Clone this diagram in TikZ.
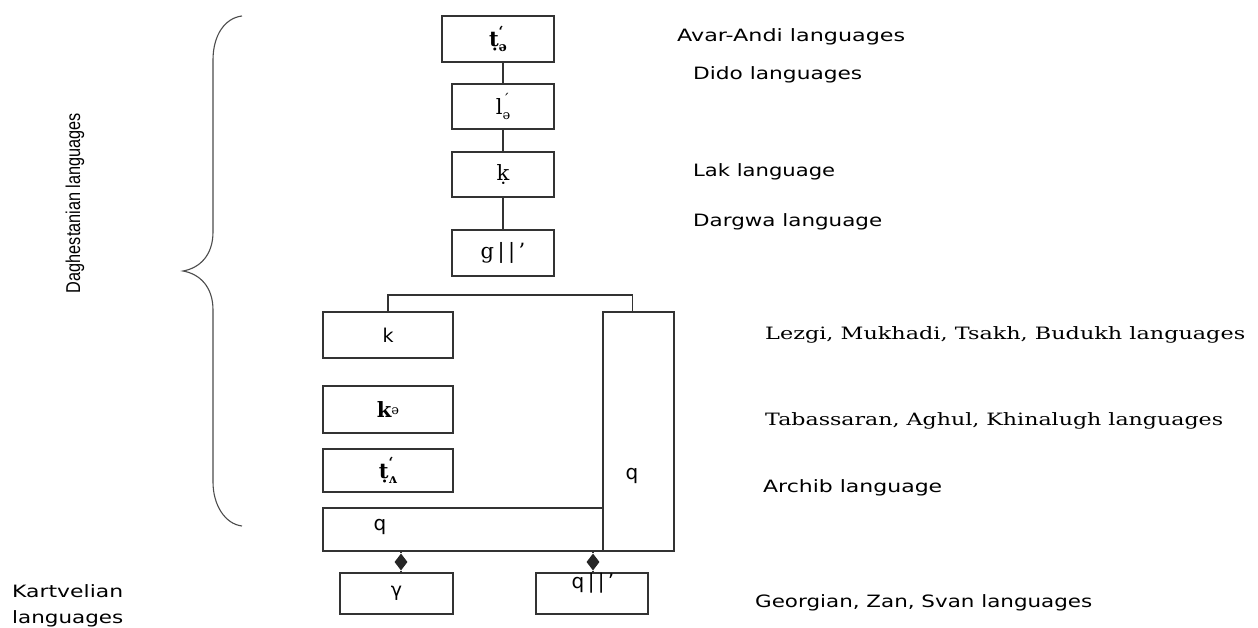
\documentclass[tikz,border=0pt]{standalone}
\usepackage{fontspec}
\usepackage{graphicx}
\setmainfont{DejaVu Serif}
\newfontfamily\dvs{DejaVu Sans}
\newfontfamily\dvserif{DejaVu Serif}
\newfontfamily\lsans{Liberation Sans}
\usetikzlibrary{shapes.geometric}
\newcommand\fitw[2]{\resizebox{#1}{\height}{#2}}
\newcommand\tsub[3]{#1\rlap{\raisebox{0.5em}{\fontsize{14}{14}\selectfont #2}}\raisebox{-0.25em}{\fontsize{13}{13}\selectfont #3}}
\begin{document}
\begin{tikzpicture}[x=1pt,y=-1pt,
  bx/.style={draw=black!80, line width=1.2pt, inner sep=0pt, outer sep=0pt, font=\dvserif\fontsize{21}{21}\selectfont},
  ln/.style={draw=black!80, line width=1.2pt},
  sbl/.style={inner sep=0pt, font=\dvs\fontsize{20}{20}\selectfont},
  rlab/.style={anchor=base west, inner sep=0pt, font=\dvs\fontsize{17}{17}\selectfont},
  slab/.style={anchor=base west, inner sep=0pt, font=\dvserif\fontsize{17}{17}\selectfont},
  dia/.style={diamond, fill=black!85, draw=none, inner sep=0pt, minimum width=13, minimum height=17}]
\path[use as bounding box] (0,0) rectangle (1258,628);
\fill[white] (0,0) rectangle (1258,628);

% brace
\draw[line width=1.1pt, black!70] (242,16) .. controls (225,18) and (213,35) .. (213,60) -- (213,232)
  .. controls (213,255) and (200,268) .. (183,271)
  .. controls (200,274) and (213,287) .. (213,310) -- (213,482)
  .. controls (213,505) and (225,524) .. (242,526);
\node[rotate=90, anchor=base, inner sep=0pt, font=\lsans\fontsize{20}{20}\selectfont] (dag) at (80,203) {\fitw{180pt}{Daghestanian languages}};

% top column
\node[bx, minimum width=112, minimum height=46] (b1) at (498,39) {\tsub{\bfseries ṭ}{ʻ}{ǝ}};
\node[bx, minimum width=102, minimum height=45] (b2) at (503,106.5) {\tsub{l}{ˊ}{ǝ}};
\node[bx, minimum width=102, minimum height=45] (b3) at (503,174.5) {ḳ};
\node[bx, minimum width=102, minimum height=46] (b4) at (503,253) {g\,|\,|\,’};
\draw[ln] (b2.north |- b1.south) -- (b2.north);
\draw[ln] (b2.south) -- (b3.north);
\draw[ln] (b3.south) -- (b4.north);

% lower block
\node[bx, minimum width=130, minimum height=46] (bk) at (388,335) {\dvs\fontsize{19}{19}\selectfont k};
\node[bx, minimum width=130, minimum height=47] (bke) at (388,409.5) {{\bfseries k}\raisebox{0.15em}{\fontsize{13}{13}\selectfont ǝ}};
\node[bx, minimum width=130, minimum height=43] (bt) at (388,470.5) {\tsub{\bfseries ṭ}{ʻ}{ʌ}};
\node[bx, minimum width=280, minimum height=43] (wq) at (463,529.5) {};
\node[bx, minimum width=71, minimum height=239] (tq) at (638.5,431.5) {};
\node[sbl] (wqt) at (380,527) {q};
\node[sbl] (tqt) at (632,476) {q};
\coordinate (jr) at (632.5,312);
\draw[ln] (bk.north) -- ++(0,-17) -| (jr);

% Kartvelian
\node[bx, minimum width=113, minimum height=41] (bg) at (396.5,593.5) {\dvs\fontsize{19}{19}\selectfont γ};
\node[bx, minimum width=112, minimum height=41] (bq) at (592,593.5) {};
\node[sbl] (bqt) at (593,583) {q\,|\,|\,’};
\node[dia] (d1) at (401,562) {};
\node[dia] (d2) at (593,562) {};
\draw[ln] (d1.north |- wq.south) -- (d1.north);
\draw[ln] (d1.south) -- (d1.south |- bg.north);
\draw[ln] (d2.north |- wq.south) -- (d2.north);
\draw[ln] (d2.south) -- (d2.south |- bq.north);

% right labels
\node[rlab] (l1) at (677,42) {\fitw{228pt}{Avar-Andi languages}};
\node[rlab] (l2) at (693,80) {\fitw{169pt}{Dido languages}};
\node[rlab] (l3) at (693,176.5) {\fitw{142pt}{Lak language}};
\node[rlab] (l4) at (693,226.5) {\fitw{189pt}{Dargwa language}};
\node[slab] (l5) at (765,339.3) {\fitw{480pt}{Lezgi, Mukhadi, Tsakh, Budukh languages}};
\node[slab] (l6) at (765,425) {\fitw{458pt}{Tabassaran, Aghul, Khinalugh languages}};
\node[rlab] (l7) at (763,492.7) {\fitw{179pt}{Archib language}};
\node[rlab] (l8) at (755,607.3) {\fitw{337pt}{Georgian, Zan, Svan languages}};
\node[rlab] (k1) at (12,597) {\fitw{111pt}{Kartvelian}};
\node[rlab] (k2) at (12,623) {\fitw{111pt}{languages}};
\end{tikzpicture}
\end{document}
